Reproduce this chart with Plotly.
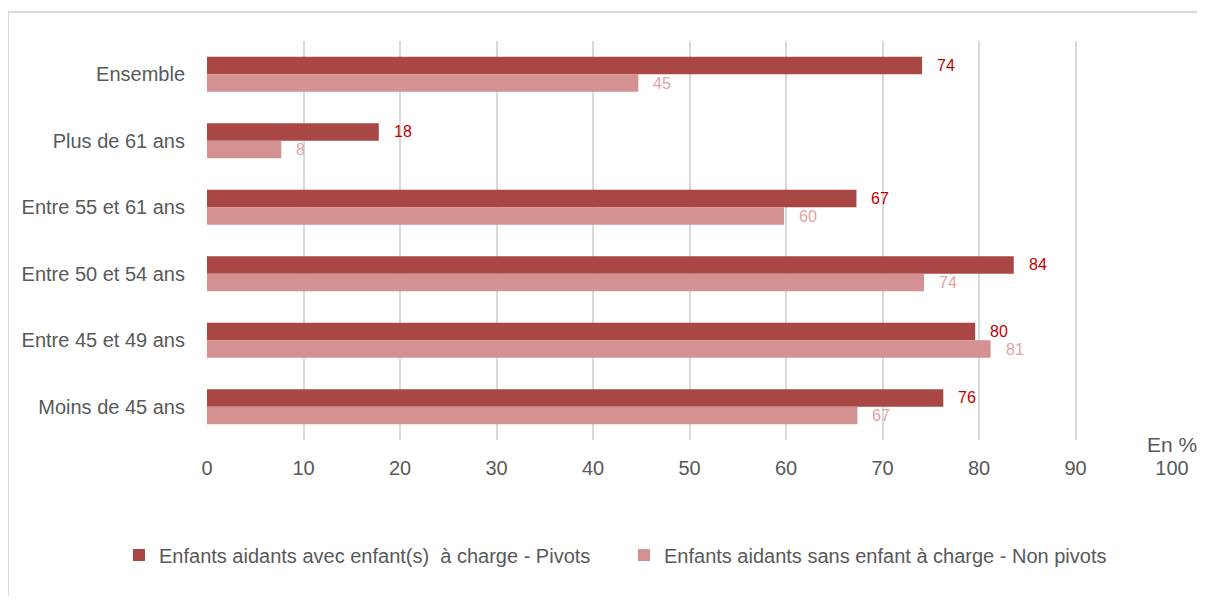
import plotly.graph_objects as go

categories = ["Ensemble", "Plus de 61 ans", "Entre 55 et 61 ans", "Entre 50 et 54 ans",
              "Entre 45 et 49 ans", "Moins de 45 ans"]
pivots = [74.1, 17.8, 67.3, 83.6, 79.6, 76.3]
non_pivots = [44.7, 7.7, 59.8, 74.3, 81.2, 67.4]
pivots_labels = ["74", "18", "67", "84", "80", "76"]
non_pivots_labels = ["45", "8", "60", "74", "81", "67"]
name_pivots = "Enfants aidants avec enfant(s)  à charge - Pivots"
name_non = "Enfants aidants sans enfant à charge - Non pivots"
x_ticks = list(range(0, 101, 10))

FONT = "Liberation Sans, Arial, sans-serif"
GRAY = "#595959"
C_DARK = "#a94744"
C_LIGHT = "#d39191"
LBL_DARK = "#c00000"
LBL_LIGHT = "#e0a3a3"

fig = go.Figure()
fig.add_trace(go.Bar(y=categories, x=pivots, orientation="h", name=name_pivots,
                     marker=dict(color=C_DARK, line=dict(width=0))))
fig.add_trace(go.Bar(y=categories, x=non_pivots, orientation="h", name=name_non,
                     marker=dict(color=C_LIGHT, line=dict(width=0))))

annotations = []
for cat, v, t in zip(categories, pivots, pivots_labels):
    annotations.append(dict(x=v, y=cat, text=t, xref="x", yref="y", showarrow=False,
                            xanchor="left", yanchor="middle", xshift=13, yshift=8.8,
                            font=dict(family=FONT, size=16, color=LBL_DARK)))
for cat, v, t in zip(categories, non_pivots, non_pivots_labels):
    annotations.append(dict(x=v, y=cat, text=t, xref="x", yref="y", showarrow=False,
                            xanchor="left", yanchor="middle", xshift=13, yshift=-8.8,
                            font=dict(family=FONT, size=16, color=LBL_LIGHT)))
annotations.append(dict(x=1, y=0, xref="paper", yref="paper", text="En %", showarrow=False,
                        xanchor="center", yanchor="middle", yshift=-4,
                        font=dict(family=FONT, size=21, color=GRAY)))

fig.update_layout(
    width=1189, height=588,
    margin=dict(l=199, r=25, t=33, b=156),
    paper_bgcolor="white", plot_bgcolor="white",
    barmode="group", bargap=0.47, bargroupgap=0,
    font=dict(family=FONT, size=20, color=GRAY),
    xaxis=dict(range=[0, 100], tickvals=x_ticks, ticktext=[str(v) for v in x_ticks],
               showgrid=True, gridcolor="#d9d9d9", gridwidth=1.5,
               zeroline=False, showline=False, ticks="", automargin=False,
               tickfont=dict(family=FONT, size=20, color=GRAY), ticklabelstandoff=14),
    yaxis=dict(autorange="reversed", showgrid=False, zeroline=False, showline=False,
               ticks="", automargin=False, tickfont=dict(family=FONT, size=20, color=GRAY),
               ticklabelstandoff=21),
    legend=dict(orientation="h", x=-0.0912, xanchor="left", y=-0.288, yanchor="middle",
                entrywidth=460, entrywidthmode="pixels",
                font=dict(family=FONT, size=20, color=GRAY), traceorder="normal"),
    annotations=annotations,
    shapes=[dict(type="rect", xref="paper", yref="paper", x0=-0.2062, x1=1.04,
                 y0=-0.43, y1=1.0727, line=dict(color="#d9d9d9", width=2),
                 fillcolor="rgba(0,0,0,0)", layer="below")],
)

fig.write_html("out.html")
